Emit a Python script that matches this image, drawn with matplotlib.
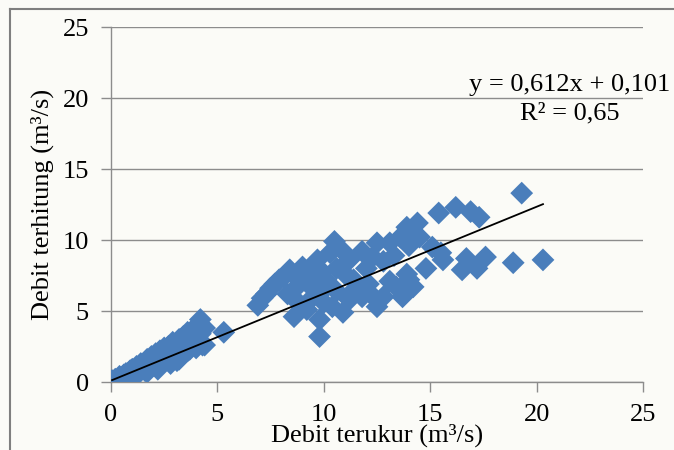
import matplotlib
matplotlib.use("Agg")
import matplotlib.pyplot as plt
import numpy as np
from matplotlib.lines import Line2D

measured = [
    # low flows 0-5
    0.05, 0.1, 0.2, 0.3, 0.4, 0.5, 0.6, 0.7, 0.8, 0.9, 1.0, 1.1, 1.2, 1.3, 1.4,
    1.5, 1.6, 1.7, 1.8, 1.9, 2.0, 2.1, 2.2, 2.3, 2.4, 2.5, 2.6, 2.7, 2.8, 2.9,
    3.0, 3.1, 3.2, 3.3, 3.4, 3.5, 3.6, 3.7, 3.8, 3.9, 4.0, 4.1, 4.2, 4.3, 4.4,
    5.3, 0.5, 1.0, 1.7, 2.2, 2.8, 3.2, 3.6, 4.0, 4.4,
    1.4, 2.0, 2.6, 3.0, 3.4, 3.8, 4.2,
    # mid flows 7-14, upper band
    6.9, 7.1, 7.3, 7.5, 7.7, 7.9, 8.1, 8.4, 8.6, 8.8, 9.0, 9.2, 9.4, 9.7, 9.9,
    10.1, 10.3, 10.5, 10.6, 10.9, 11.0, 11.2, 11.4, 11.8, 12.0, 12.3, 12.5,
    12.8, 13.1, 13.3, 13.6, 13.9, 14.0, 14.4, 14.5, 14.2,
    # mid flows, lower band
    8.3, 8.6, 8.8, 9.2, 9.5, 9.8, 9.8, 10.0, 10.4, 10.6, 10.9, 11.2, 11.5,
    11.8, 12.1, 12.5, 12.8, 13.1, 13.4, 13.7, 13.9, 14.0, 14.2, 12.2, 10.2, 9.6,
    # high flows
    15.4, 16.2, 16.9, 17.3, 15.5, 15.1, 16.7, 17.6, 18.9, 20.3, 16.5, 17.2,
    14.8, 19.3, 15.6,
]
computed = [
    0.1, 0.05, 0.2, 0.1, 0.4, 0.3, 0.5, 0.6, 0.4, 0.8, 0.9, 0.6, 1.1, 0.9, 1.3,
    1.2, 0.8, 1.6, 1.4, 1.8, 1.5, 2.0, 1.7, 2.2, 1.9, 2.4, 1.6, 2.5, 2.2, 2.8,
    2.4, 1.5, 3.0, 2.6, 3.2, 2.8, 3.5, 2.3, 3.6, 3.1, 3.9, 2.9, 4.4, 2.6, 3.8,
    3.5, 0.0, 0.2, 0.7, 0.9, 1.3, 1.6, 2.2, 2.4, 2.6,
    0.8, 1.2, 2.0, 1.9, 2.2, 2.9, 3.4,
    5.4, 5.9, 6.2, 6.6, 6.9, 7.2, 7.4, 7.9, 7.5, 6.8, 8.1, 7.0, 7.6, 8.6, 7.8,
    7.2, 9.1, 9.9, 8.0, 9.2, 7.6, 8.6, 7.2, 9.2, 8.0, 8.8, 9.8,
    8.5, 9.8, 8.9, 10.2, 10.9, 9.6, 11.2, 10.2, 10.6,
    6.2, 4.6, 5.6, 5.1, 6.0, 4.4, 3.2, 5.6, 5.3, 6.4, 4.9, 5.8, 6.6,
    6.0, 6.9, 5.3, 6.0, 7.1, 6.7, 6.0, 7.6, 7.2, 6.7, 6.2, 6.8, 6.5,
    11.9, 12.3, 12.0, 11.6, 9.1, 9.5, 8.7, 8.8, 8.4, 8.6, 7.9, 8.0,
    8.0, 13.3, 8.6,
]

SLOPE = 0.612
INTERCEPT = 0.101
EQ_TEXT = "y = 0,612x + 0,101"
R2_TEXT = "R² = 0,65"
TICKS = [0, 5, 10, 15, 20, 25]

BLUE = "#4a7ebb"
GRID = "#8c8c8c"
BG = "#fbfbf7"
FS = 19

plt.rcParams["font.family"] = ["Liberation Serif", "DejaVu Serif"]

fig = plt.figure(figsize=(6.74, 4.5), dpi=100, facecolor=BG)
ax = fig.add_axes([0.1647, 0.1511, 0.7893, 0.7889])
ax.set_facecolor("none")

ax.scatter(measured, computed, marker="D", s=135, color=BLUE,
           edgecolors="none", zorder=3)

xs = np.array([min(measured), max(measured)])
ax.plot(xs, SLOPE * xs + INTERCEPT, color="black", lw=1.3, zorder=4)

ax.set_xlim(0, 25)
ax.set_ylim(0, 25)
ax.set_xticks(TICKS)
ax.set_yticks(TICKS)
ax.grid(axis="y", color=GRID, lw=1)
ax.set_axisbelow(True)
for s in ("top", "right"):
    ax.spines[s].set_visible(False)
for s in ("left", "bottom"):
    ax.spines[s].set_color(GRID)
    ax.spines[s].set_linewidth(1)
ax.tick_params(axis="both", length=7, width=1, color=GRID,
               labelsize=FS, pad=9)
ax.tick_params(axis="x", pad=9)

ax.set_xlabel("Debit terukur (m³/s)", fontsize=FS, labelpad=-2)
ax.set_ylabel("Debit terhitung (m³/s)", fontsize=FS, labelpad=6)

fig.text(0.994, 0.810, EQ_TEXT, fontsize=FS, ha="right", va="center")
fig.text(0.845, 0.748, R2_TEXT, fontsize=FS, ha="center", va="center")

# outer chart frame (left and top edges visible)
fig.add_artist(Line2D([0.0148, 0.0148], [0.0, 0.98], color="#7f7f7f", lw=1.5))
fig.add_artist(Line2D([0.0148, 1.0], [0.98, 0.98], color="#7f7f7f", lw=1.5))

fig.savefig("out.png", dpi=100, facecolor=BG)
